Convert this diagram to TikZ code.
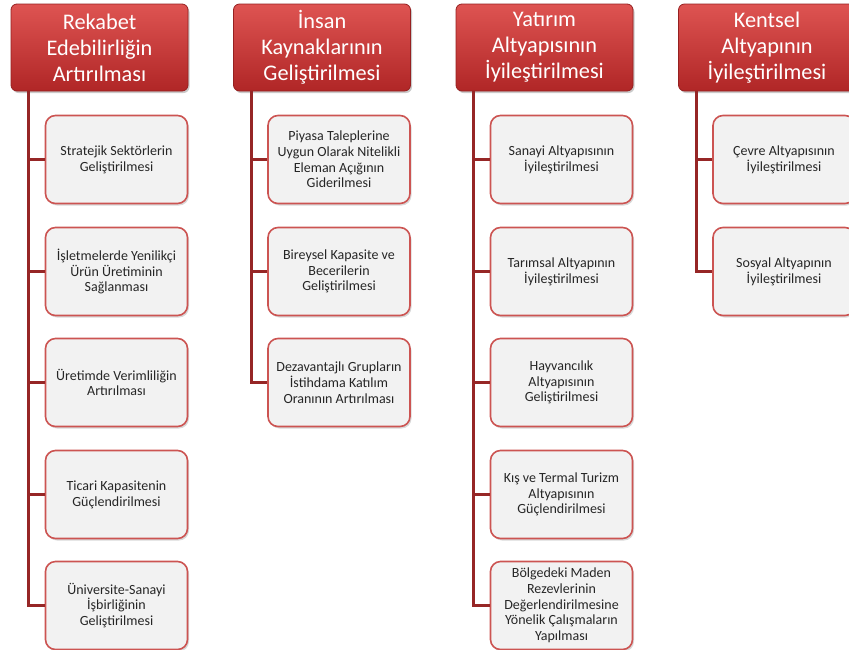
\documentclass[tikz,border=0pt]{standalone}
\usepackage{fontspec}
\setmainfont{Carlito}
\usetikzlibrary{shadows,calc}
\definecolor{hdtop}{RGB}{222,84,82}
\definecolor{hdbot}{RGB}{176,38,38}
\definecolor{hdline}{RGB}{150,32,32}
\definecolor{chfill}{RGB}{242,242,242}
\definecolor{chline}{RGB}{204,84,82}
\definecolor{conncol}{RGB}{150,38,38}
\tikzset{
  hdbox/.style={rounded corners=6pt, draw=hdline, line width=0.8pt, top color=hdtop, bottom color=hdbot,
    minimum width=177pt, minimum height=87pt, inner sep=0pt, align=center, text=white,
    font=\fontsize{22.3pt}{26pt}\selectfont,
    drop shadow={shadow xshift=1.5pt, shadow yshift=-2pt, opacity=0.35, fill=black!60}},
  chbox/.style={rounded corners=10pt, draw=chline, line width=1.6pt, fill=chfill,
    minimum width=142pt, minimum height=88pt, inner sep=0pt, align=center, text=black!85,
    font=\fontsize{14pt}{15.7pt}\selectfont,
    drop shadow={shadow xshift=1.5pt, shadow yshift=-2pt, opacity=0.3, fill=black!50}},
  conn/.style={draw=conncol, line width=3pt}
}
\begin{document}
\begin{tikzpicture}[x=1pt,y=-1pt]
\useasboundingbox (0,0) rectangle (849,649);
% headers
\node[hdbox] (h1) at (99.5,47.5) {Rekabet\\Edebilirliğin\\Artırılması};
\node[hdbox] (h2) at (322,47.5) {İnsan\\Kaynaklarının\\Geliştirilmesi};
\node[hdbox] (h3) at (544.5,47.5) {Yatırım\\Altyapısının\\İyileştirilmesi};
\node[hdbox] (h4) at (767,47.5) {Kentsel\\Altyapının\\İyileştirilmesi};
% line anchors
\coordinate (v1) at (28,91);
\coordinate (v2) at (251,91);
\coordinate (v3) at (473,91);
\coordinate (v4) at (696,91);
% children col1
\node[chbox] (c11) at (116.5,159.5) {Stratejik Sektörlerin\\Geliştirilmesi};
\node[chbox] (c12) at (116.5,271.5) {İşletmelerde Yenilikçi\\Ürün Üretiminin\\Sağlanması};
\node[chbox] (c13) at (116.5,382.5) {Üretimde Verimliliğin\\Artırılması};
\node[chbox] (c14) at (116.5,494.5) {Ticari Kapasitenin\\Güçlendirilmesi};
\node[chbox] (c15) at (116.5,605.5) {Üniversite-Sanayi\\İşbirliğinin\\Geliştirilmesi};
% col2
\node[chbox] (c21) at (339,159.5) {Piyasa Taleplerine\\Uygun Olarak Nitelikli\\Eleman Açığının\\Giderilmesi};
\node[chbox] (c22) at (339,271.5) {Bireysel Kapasite ve\\Becerilerin\\Geliştirilmesi};
\node[chbox] (c23) at (339,382.5) {Dezavantajlı Grupların\\İstihdama Katılım\\Oranının Artırılması};
% col3
\node[chbox] (c31) at (561.5,159.5) {Sanayi Altyapısının\\İyileştirilmesi};
\node[chbox] (c32) at (561.5,271.5) {Tarımsal Altyapının\\İyileştirilmesi};
\node[chbox] (c33) at (561.5,382.5) {Hayvancılık\\Altyapısının\\Geliştirilmesi};
\node[chbox] (c34) at (561.5,494.5) {Kış ve Termal Turizm\\Altyapısının\\Güçlendirilmesi};
\node[chbox] (c35) at (561.5,605.5) {Bölgedeki Maden\\Rezevlerinin\\Değerlendirilmesine\\Yönelik Çalışmaların\\Yapılması};
% col4
\node[chbox] (c41) at (784,159.5) {Çevre Altyapısının\\İyileştirilmesi};
\node[chbox] (c42) at (784,271.5) {Sosyal Altyapının\\İyileştirilmesi};
% connectors
\foreach \c/\n in {1/1,1/2,1/3,1/4,1/5,2/1,2/2,2/3,3/1,3/2,3/3,3/4,3/5,4/1,4/2}
  \draw[conn] (v\c) |- (c\c\n.west);
\end{tikzpicture}
\end{document}
